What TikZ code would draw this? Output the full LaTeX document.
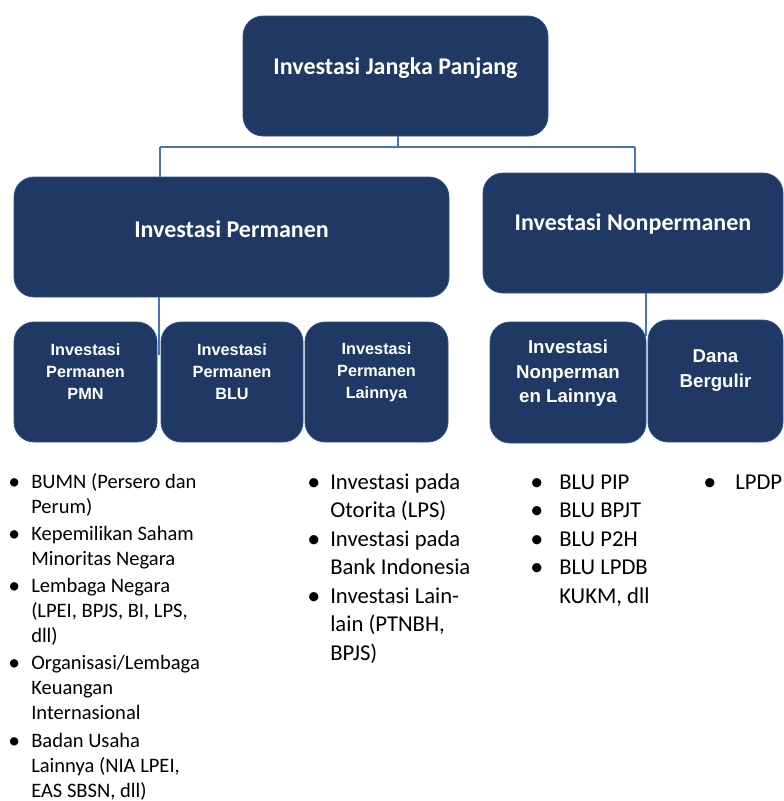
\documentclass[tikz,border=0pt]{standalone}
\usepackage{fontspec}
\setmainfont{Carlito}
\newfontfamily\boxsans{Liberation Sans}
\usetikzlibrary{fit}
\definecolor{navy}{HTML}{203864}
\definecolor{navyedge}{HTML}{2F528F}
\definecolor{linkblue}{HTML}{4472C4}
% a slightly heavier list bullet
\newcommand{\lbul}{\raisebox{-0.05em}{\scalebox{1.15}{\textbullet}}}

\begin{document}
\begin{tikzpicture}[x=0.75pt,y=-0.75pt,
  box/.style={fill=navy, draw=navyedge, line width=0.6pt, rounded corners=15pt, inner sep=0pt},
  headtxt/.style={text=white, font=\fontsize{18}{21}\selectfont\bfseries},
  subtxt/.style={text=white, align=center, font=\boxsans\fontsize{12.2}{16.5}\selectfont\bfseries},
  subtxtb/.style={text=white, align=center, font=\boxsans\fontsize{14}{18.75}\selectfont\bfseries},
  conn/.style={draw=linkblue, line width=0.9pt},
  listA/.style={inner sep=0pt, anchor=base west, font=\fontsize{15.4}{18.75}\selectfont},
  listB/.style={inner sep=0pt, anchor=base west, font=\fontsize{17}{21.4}\selectfont},
]
\useasboundingbox (0,0) rectangle (784,801);

% boxes
\node[box, fit={(243,16)(548,136)},
  label={[headtxt,yshift=6pt]center:Investasi Jangka Panjang}] (top) {};
\node[box, fit={(14,177)(449,297)},
  label={[headtxt,yshift=6pt]center:Investasi Permanen}] (perm) {};
\node[box, fit={(483,173)(783,293)},
  label={[headtxt,yshift=7pt]center:Investasi Nonpermanen}] (nonperm) {};

\node[box, fit={(14,322)(157,442)},
  label={[subtxt,yshift=7.5pt]center:{Investasi\\Permanen\\PMN}}] (pmn) {};
\node[box, fit={(161,322)(303,442)},
  label={[subtxt,yshift=7.5pt]center:{Investasi\\Permanen\\BLU}}] (blu) {};
\node[box, fit={(305,322)(448,442)},
  label={[subtxt,yshift=7.5pt]center:{Investasi\\Permanen\\Lainnya}}] (plain) {};
\node[box, fit={(490,322)(646,443)},
  label={[subtxtb,yshift=7pt]center:{Investasi\\Nonperman\\en Lainnya}}] (nlain) {};
\node[box, fit={(648,320)(783,442)},
  label={[subtxtb,yshift=7.5pt]center:{Dana\\Bergulir}}] (dana) {};

% connectors
\coordinate (jT) at (398,147);
\coordinate (jL) at (160,147);
\coordinate (jR) at (635,147);
\coordinate (pL) at (159,355);
\coordinate (nL) at (646,336);
\draw[conn] (top.south -| jT) -- (jT);
\draw[conn] (jL) -- (jR);
\draw[conn] (jL) -- (jL |- perm.north);
\draw[conn] (jR) -- (jR |- nonperm.north);
\draw[conn] (pL |- perm.south) -- (pL);
\draw[conn] (nL |- nonperm.south) -- (nL);

% lists
\node[listA] (listpmn) at (8,488) {%
\begin{tabular}[t]{@{}p{17.25pt}@{}l@{}}
\lbul & BUMN (Persero dan\\
 & Perum)\\[1.7pt]
\lbul & Kepemilikan Saham\\
 & Minoritas Negara\\[1.7pt]
\lbul & Lembaga Negara\\
 & (LPEI, BPJS, BI, LPS,\\
 & dll)\\[1.7pt]
\lbul & Organisasi/Lembaga\\
 & Keuangan\\
 & Internasional\\[1.7pt]
\lbul & Badan Usaha\\
 & Lainnya (NIA LPEI,\\
 & EAS SBSN, dll)
\end{tabular}};

\node[listB] (listlain) at (307,489) {%
\begin{tabular}[t]{@{}p{17.25pt}@{}l@{}}
\lbul & Investasi pada\\
 & Otorita (LPS)\\
\lbul & Investasi pada\\
 & Bank Indonesia\\
\lbul & Investasi Lain-\\
 & lain (PTNBH,\\
 & BPJS)
\end{tabular}};

\node[listB] (listnon) at (530,489) {%
\begin{tabular}[t]{@{}p{21.75pt}@{}l@{}}
\lbul & BLU PIP\\
\lbul & BLU BPJT\\
\lbul & BLU P2H\\
\lbul & BLU LPDB\\
 & KUKM, dll
\end{tabular}};

\node[listB] (listdana) at (703,489) {%
\begin{tabular}[t]{@{}p{24pt}@{}l@{}}
\lbul & LPDP
\end{tabular}};
\end{tikzpicture}
\end{document}
